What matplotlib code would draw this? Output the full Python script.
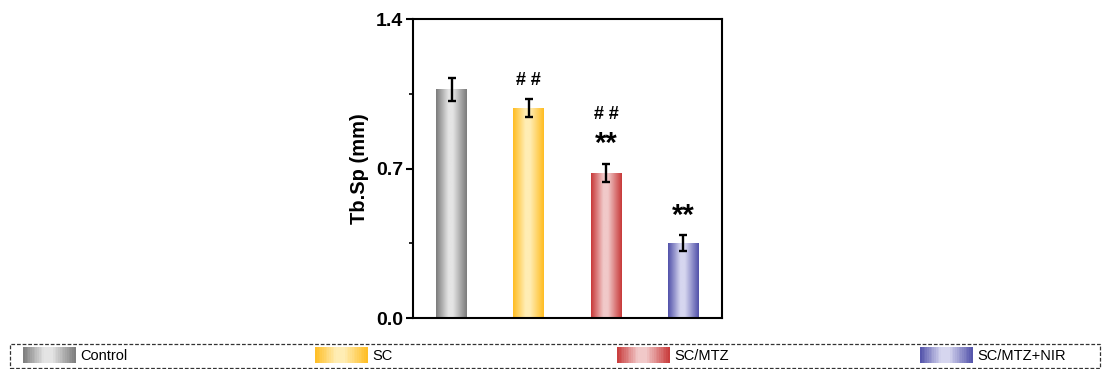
import numpy as np
import matplotlib
matplotlib.use("Agg")
import matplotlib.pyplot as plt
from matplotlib.colors import LinearSegmentedColormap
from matplotlib.legend_handler import HandlerBase
from matplotlib.patches import Rectangle

plt.rcParams['font.family'] = ['Liberation Sans', 'DejaVu Sans']

groups = ["Control", "SC", "SC/MTZ", "SC/MTZ+NIR"]
means = [1.07, 0.983, 0.679, 0.352]
errors = [0.055, 0.042, 0.043, 0.036]
# significance marks (label, y position) above each bar
marks = [[], [("# #", 1.11)], [("# #", 0.952), ("**", 0.815)], [("**", 0.48)]]
edge_cols = ["#7c7c7c", "#ffbd22", "#c83a3a", "#5252aa"]
mid_cols = ["#e4e4e4", "#ffedb4", "#f1c9c9", "#d6d6ef"]


def grad_cmap(edge, mid):
    return LinearSegmentedColormap.from_list("g", [(0, edge), (0.4, mid), (0.55, mid), (1, edge)])


def grad_row(n=64):
    x = np.linspace(0, 1, n)
    return x.reshape(1, -1)


class GradientHandler(HandlerBase):
    def create_artists(self, legend, orig_handle, xdescent, ydescent,
                       width, height, fontsize, trans):
        cmap = orig_handle.cmap
        n = 30
        arts = []
        for i in range(n):
            r = Rectangle((-xdescent + width * i / n, -ydescent - 2), width / n + 0.3, height + 4,
                          facecolor=cmap((i + 0.5) / n), edgecolor='none', transform=trans)
            arts.append(r)
        return arts


class GradPatch(Rectangle):
    def __init__(self, cmap):
        super().__init__((0, 0), 1, 1)
        self.cmap = cmap


fig = plt.figure(figsize=(11.03, 3.69), dpi=100)
ax = fig.add_axes([0.3744, 0.1382, 0.2802, 0.8103])

pos = np.arange(1, len(groups) + 1)
bars = ax.bar(pos, means, width=0.4, facecolor='none', edgecolor='none', zorder=2)
for b, e, m in zip(bars, edge_cols, mid_cols):
    x0, y0 = b.get_x(), b.get_y()
    im = ax.imshow(grad_row(), cmap=grad_cmap(e, m), aspect='auto', interpolation='bilinear',
                   extent=[x0, x0 + b.get_width(), y0, y0 + b.get_height()], zorder=2)
    im.set_clip_path(b)

ax.errorbar(pos, means, yerr=errors, fmt='none', ecolor='black', elinewidth=1.7,
            capsize=3.2, capthick=1.7, zorder=3)

for p, ml in zip(pos, marks):
    for txt, yv in ml:
        if txt == "**":
            ax.text(p, yv, txt, ha='center', va='center', fontsize=21, fontweight='bold')
        else:
            ax.text(p, yv, txt, ha='center', va='center', fontsize=13, fontweight='bold')

ax.set_xlim(0.5, 4.5)
ax.set_ylim(0, 1.4)
ax.set_xticks([])
ax.set_yticks([0.0, 0.7, 1.4])
ax.set_yticklabels(["0.0", "0.7", "1.4"])
ax.set_yticks([0.35, 1.05], minor=True)
ax.tick_params(axis='y', which='major', direction='out', length=5, width=1.5,
               labelsize=14, pad=2)
ax.tick_params(axis='y', which='minor', direction='out', length=3, width=1.2)
for lab in ax.get_yticklabels():
    lab.set_fontweight('bold')
for s in ax.spines.values():
    s.set_linewidth(1.5)
ax.set_ylabel("Tb.Sp (mm)", fontsize=14.5, fontweight='bold', labelpad=5)

# legend strip along the bottom
frame = Rectangle((10 / 1103, 1 / 369), 1090 / 1103, 24 / 369, transform=fig.transFigure,
                  facecolor='none', edgecolor='#333333', linestyle=(0, (3, 1.5)), linewidth=0.9)
fig.add_artist(frame)
leg_x = [23 / 1103, 315 / 1103, 617 / 1103, 920 / 1103]
for g, e, m, lx in zip(groups, edge_cols, mid_cols, leg_x):
    h = GradPatch(grad_cmap(e, m))
    fig.legend([h], [g], loc='center left', bbox_to_anchor=(lx, 13 / 369), frameon=False,
               handler_map={GradPatch: GradientHandler()}, handlelength=3.6,
               handletextpad=0.3, fontsize=10.5, borderpad=0, borderaxespad=0)

fig.savefig("out.png", dpi=100)
